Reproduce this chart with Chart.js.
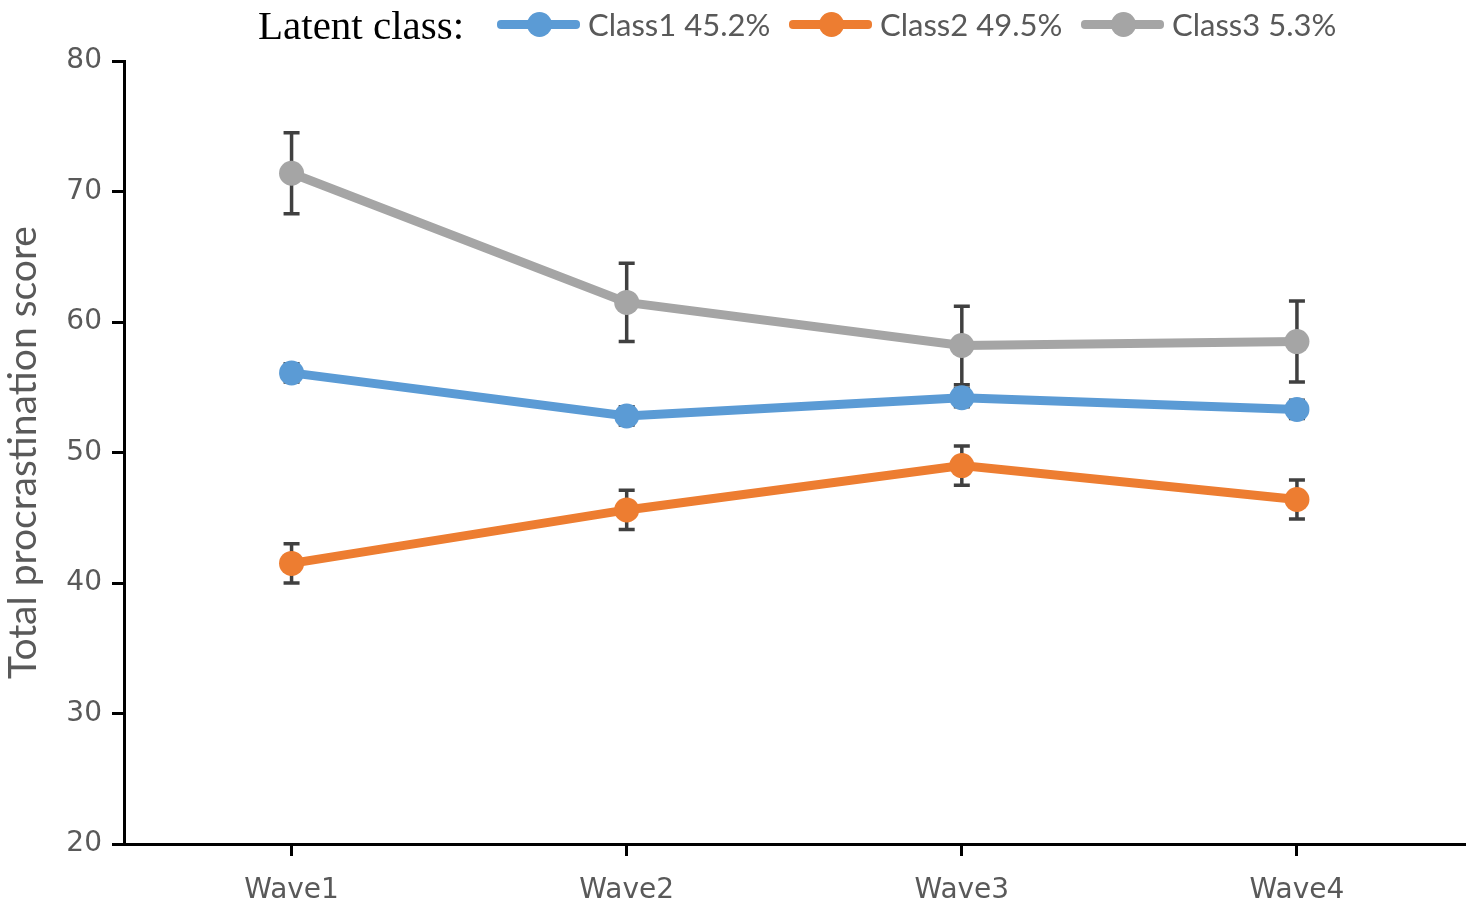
<!DOCTYPE html>
<html>
<head>
<meta charset="utf-8">
<script src="https://cdn.jsdelivr.net/npm/chart.js@4.4.0/dist/chart.umd.min.js"></script>
<style>
  body { margin: 0; background: #fff; }
  .wrap { position: relative; width: 1477px; height: 918px; }
  .legend-title { position: absolute; left: 258px; top: 1px; font-family: "Liberation Serif", serif; font-size: 41px; color: #000; white-space: nowrap; }
  .legend-item { position: absolute; top: 4px; height: 40px; display: flex; align-items: center; white-space: nowrap; }
  .sym { position: relative; width: 83px; height: 9px; border-radius: 4px; margin-right: 8px; }
  .sym::after { content: ''; position: absolute; left: 30px; top: -8px; width: 25px; height: 25px; border-radius: 50%; background: inherit; }
  .legend-item span.txt { font-family: Lato, sans-serif; font-size: 31px; color: #595959; }
</style>
</head>
<body>
<div class="wrap">
  <canvas id="chart" width="1477" height="918"></canvas>
  <div class="legend-title">Latent class:</div>
  <div id="legend"></div>
</div>
<script>
const waves = ['Wave1', 'Wave2', 'Wave3', 'Wave4'];
const classNames = ['Class1 45.2%', 'Class2 49.5%', 'Class3 5.3%'];
const class1 = [56.1, 52.8, 54.2, 53.3];
const class2 = [41.5, 45.6, 49.0, 46.4];
const class3 = [71.4, 61.5, 58.2, 58.5];
const class1Err = [0.7, 0.7, 0.7, 0.7];
const class2Err = [1.5, 1.5, 1.5, 1.5];
const class3Err = [3.1, 3.0, 3.0, 3.1];
const colors = ['#5B9BD5', '#ED7D31', '#A5A5A5'];

// legend built as html so the text stays selectable
const legendX = [497, 789, 1081];
const legendDiv = document.getElementById('legend');
classNames.forEach(function (name, i) {
    const item = document.createElement('div');
    item.className = 'legend-item';
    item.style.left = legendX[i] + 'px';
    item.innerHTML = '<div class="sym" style="background:' + colors[i] + '"></div><span class="txt">' + name + '</span>';
    legendDiv.appendChild(item);
});

const errors = [class1Err, class2Err, class3Err];

// error bars drawn under the markers, like the original
const errorBars = {
    id: 'errorBars',
    beforeDatasetsDraw(chart) {
        const ctx = chart.ctx;
        const x = chart.scales.x;
        const y = chart.scales.y;
        ctx.save();
        ctx.strokeStyle = '#404040';
        ctx.lineWidth = 3.5;
        chart.data.datasets.forEach(function (ds, i) {
            ds.data.forEach(function (v, j) {
                const px = x.getPixelForValue(j);
                const top = y.getPixelForValue(v + errors[i][j]);
                const bot = y.getPixelForValue(v - errors[i][j]);
                ctx.beginPath();
                ctx.moveTo(px, top); ctx.lineTo(px, bot);
                ctx.moveTo(px - 8, top); ctx.lineTo(px + 8, top);
                ctx.moveTo(px - 8, bot); ctx.lineTo(px + 8, bot);
                ctx.stroke();
            });
        });
        ctx.restore();
    }
};

function series(label, data, color) {
    return {
        label: label,
        data: data,
        borderColor: color,
        backgroundColor: color,
        borderWidth: 9,
        pointRadius: 12.5,
        pointBorderWidth: 0,
        pointBackgroundColor: color,
        tension: 0
    };
}

const tickFont = { family: 'DejaVu Sans', size: 28 };

new Chart(document.getElementById('chart'), {
    type: 'line',
    data: {
        labels: waves,
        datasets: [
            series(classNames[0], class1, colors[0]),
            series(classNames[1], class2, colors[1]),
            series(classNames[2], class3, colors[2])
        ]
    },
    options: {
        responsive: false,
        animation: false,
        layout: { padding: { top: 61, right: 12, left: 0, bottom: 0 } },
        plugins: { legend: { display: false }, tooltip: { enabled: false } },
        scales: {
            x: {
                offset: true,
                grid: { drawOnChartArea: false, offset: false, tickLength: 12, color: '#000', lineWidth: 3 },
                border: { color: '#000', width: 3 },
                ticks: { font: tickFont, color: '#595959', padding: 18 },
                afterFit(scale) { scale.height = 74; }
            },
            y: {
                min: 20,
                max: 80,
                ticks: { stepSize: 10, font: tickFont, color: '#595959', padding: 10 },
                grid: { drawOnChartArea: false, tickLength: 12, color: '#000', lineWidth: 3 },
                border: { color: '#000', width: 3 },
                title: { display: true, text: 'Total procrastination score', font: { family: 'Lato', size: 39 }, color: '#595959', padding: 0 },
                afterFit(scale) { scale.width = 124; }
            }
        }
    },
    plugins: [errorBars]
});
</script>
</body>
</html>
